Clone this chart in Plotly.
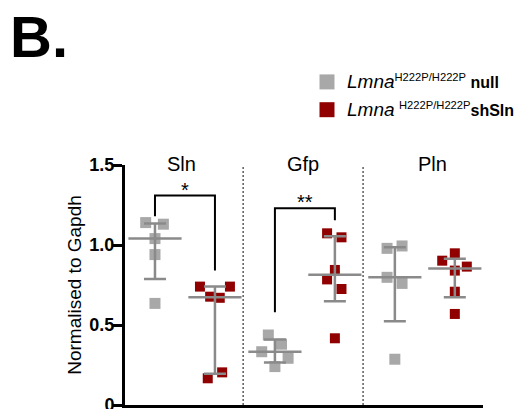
import numpy as np
import plotly.graph_objects as go

# ---- data ----
genes = ["Sln", "Gfp", "Pln"]

null_sln = [1.14, 1.13, 1.04, 0.94, 0.635]
null_gfp = [0.4375, 0.38, 0.333, 0.292, 0.24]
null_pln = [0.979, 0.994, 0.798, 0.76, 0.286]

sh_sln = [0.74, 0.74, 0.677, 0.67, 0.167, 0.204]
sh_gfp = [1.073, 1.048, 0.844, 0.785, 0.725, 0.417]
sh_pln = [0.902, 0.948, 0.865, 0.84, 0.708, 0.569]

# horizontal scatter of the points within each group (category units)
jit_null_sln = [-0.155, 0.14, 0, 0, 0]
jit_null_gfp = [-0.11, 0.11, -0.22, 0.22, 0]
jit_null_pln = [-0.13, 0.12, -0.13, 0.12, 0]
jit_sh_sln = [-0.25, 0.25, -0.08, 0.08, -0.12, 0.12]
jit_sh_gfp = [-0.13, 0.11, 0, -0.13, 0.11, 0]
jit_sh_pln = [-0.21, 0, 0.2, 0, 0, 0]

significance = ["*", "**"]

GRAY = "#a8a8a8"
RED = "#900000"
BAR = "#8a8a8a"
FONT = "Liberation Sans, Arial, sans-serif"

# the page body adds an 8px offset, so the figure is 8px smaller
OFF = 8
W, H = 524 - OFF, 409 - OFF
ML, MR, MT, MB = 125 - OFF, 41, 165 - OFF, 4
PW, PH = W - ML - MR, H - MT - MB


def px_x(p):  # reference-picture pixel -> paper x
    return (p - OFF - ML) / PW


def px_y(p):  # reference-picture pixel -> paper y
    return (H - MB - (p - OFF)) / PH


groups = [
    (null_sln, jit_null_sln, 0, sh_sln, jit_sh_sln),
    (null_gfp, jit_null_gfp, 2, sh_gfp, jit_sh_gfp),
    (null_pln, jit_null_pln, 4, sh_pln, jit_sh_pln),
]

fig = go.Figure()

null_x, null_y, sh_x, sh_y = [], [], [], []
for nv, nj, base, sv, sj in groups:
    null_x += [base + j for j in nj]
    null_y += nv
    sh_x += [base + 1 + j for j in sj]
    sh_y += sv

lbl_null = ('<span style="font-size:19px"><i>Lmna</i></span>'
            '<sup>H222P/H222P</sup> <b>null</b>')
lbl_sh = ('<span style="font-size:19px"><i>Lmna</i></span> '
          '<sup>H222P/H222P</sup><b>shSln</b>')

fig.add_trace(go.Scatter(
    x=null_x, y=null_y, mode="markers", showlegend=False,
    marker=dict(symbol="square", size=11, color=GRAY), cliponaxis=False))
fig.add_trace(go.Scatter(
    x=sh_x, y=sh_y, mode="markers", showlegend=False,
    marker=dict(symbol="square", size=10, color=RED), cliponaxis=False))

# legend entries
fig.add_trace(go.Scatter(
    x=[None], y=[None], mode="markers", name=lbl_null, legendgroup="a",
    marker=dict(symbol="square", size=15, color=GRAY)))
fig.add_trace(go.Scatter(
    x=[None], y=[None], mode="markers", name=lbl_sh, legendgroup="b",
    marker=dict(symbol="square", size=15, color=RED)))

# median with interquartile range
mx, med, up, lo = [], [], [], []
for nv, nj, base, sv, sj in groups:
    for k, vals in enumerate([nv, sv]):
        m = float(np.median(vals))
        q1 = float(np.percentile(vals, 25, method="weibull"))
        q3 = float(np.percentile(vals, 75, method="weibull"))
        mx.append(base + k)
        med.append(m)
        up.append(q3 - m)
        lo.append(m - q1)

fig.add_trace(go.Scatter(
    x=mx, y=med, mode="markers", showlegend=False,
    marker=dict(symbol="line-ew", size=38, color=BAR,
                line=dict(width=2.5, color=BAR)),
    error_y=dict(type="data", array=up, arrayminus=lo, symmetric=False,
                 color=BAR, thickness=2.5, width=11),
    cliponaxis=False))

shapes = []
# dashed separators between genes
for sep in [1.47, 3.47]:
    shapes.append(dict(type="line", xref="x", yref="y", x0=sep, x1=sep,
                       y0=0, y1=1.5, line=dict(color="#333333", width=1.2, dash="2px,2px")))
# significance brackets
brackets = [
    (0, 1.18, 1, 0.84, 1.31),
    (2, 0.58, 3, 1.155, 1.23),
]
for xa, ya, xb, yb, top in brackets:
    shapes.append(dict(type="path", xref="x", yref="y",
                       path=f"M {xa},{ya} L {xa},{top} L {xb},{top} L {xb},{yb}",
                       line=dict(color="black", width=2)))

annotations = []
title_x = [0.45, 2.47, 4.62]
for g, tx in zip(genes, title_x):
    annotations.append(dict(x=tx, y=px_y(164), xref="x", yref="paper", text=g,
                            showarrow=False, yanchor="middle",
                            font=dict(size=20, color="black", family=FONT)))
for (xa, ya, xb, yb, top), s in zip(brackets, significance):
    annotations.append(dict(x=(xa + xb) / 2, y=top - 0.045, xref="x", yref="y", text=s,
                            showarrow=False, yanchor="bottom",
                            font=dict(size=20, color="black", family=FONT)))
annotations.append(dict(x=px_x(39), y=px_y(37), xref="paper", yref="paper",
                        text="<b>B.</b>", showarrow=False, xanchor="center", yanchor="middle",
                        font=dict(size=58, color="black", family=FONT)))

fig.update_layout(
    width=W, height=H,
    margin=dict(l=ML, r=MR, t=MT, b=MB, autoexpand=False),
    paper_bgcolor="white", plot_bgcolor="white",
    font=dict(family=FONT, color="black"),
    shapes=shapes, annotations=annotations,
    showlegend=True,
    legend=dict(x=px_x(307), y=px_y(65), xanchor="left", yanchor="top",
                font=dict(size=16, color="black", family=FONT),
                tracegroupgap=4, bgcolor="rgba(0,0,0,0)"),
    xaxis=dict(range=[-0.5, 5.47], showline=True, linewidth=3, linecolor="black",
               showticklabels=False, ticks="", showgrid=False, zeroline=False,
               automargin=False),
    yaxis=dict(range=[0, 1.5], tickvals=[0, 0.5, 1.0, 1.5],
               ticktext=["0", "0.5", "1.0", "1.5"],
               showline=True, linewidth=3, linecolor="black",
               ticks="outside", ticklen=9, tickwidth=3, tickcolor="black",
               tickfont=dict(size=18, family=FONT, weight="bold"),
               ticklabelstandoff=-5, ticklabeloverflow="allow",
               showgrid=False, zeroline=False, automargin=False,
               title=dict(text="Normalised to Gapdh", standoff=3,
                          font=dict(size=19, family=FONT))),
)

fig.write_html("out.html")
